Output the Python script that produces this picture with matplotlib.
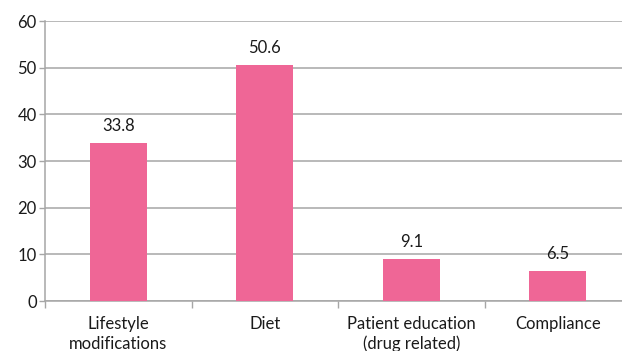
import matplotlib.pyplot as plt

categories = ["Lifestyle\nmodifications", "Diet", "Patient education\n(drug related)", "Compliance"]
values = [33.8, 50.6, 9.1, 6.5]
y_ticks = [0, 10, 20, 30, 40, 50, 60]

plt.rcParams['font.family'] = ['Lato', 'DejaVu Sans']

W, H = 622, 351
fig = plt.figure(figsize=(W / 100, H / 100), dpi=100)
# plot area runs a little past the right edge, gridlines are cut there
left, right, top, bottom = 45, 631, 21, 301
ax = fig.add_axes([left / W, (H - bottom) / H, (right - left) / W, (bottom - top) / H])

grid_col = "#a6a6a6"
txt_col = "#1a1a1a"
fs = 12
x = list(range(len(categories)))
ax.bar(x, values, width=0.39, color="#ef6696", zorder=3)

for xi, v in zip(x, values):
    ax.annotate(f"{v}", (xi, v), xytext=(0, 17), textcoords="offset pixels",
                ha="center", va="center", fontsize=fs, color=txt_col, zorder=4)

ax.set_xlim(-0.5, len(categories) - 0.5)
ax.set_ylim(0, 60)
ax.set_yticks(y_ticks)
ax.yaxis.grid(True, color=grid_col, linewidth=1.1, zorder=0)
ax.set_axisbelow(True)

ax.set_xticks(x)
ax.set_xticklabels(categories, fontsize=fs, color=txt_col, linespacing=1.25)
ax.set_xticks([i + 0.5 for i in range(-1, len(categories))], minor=True)
ax.tick_params(axis="x", which="major", length=0, pad=11)
ax.tick_params(axis="x", which="minor", length=5, color=grid_col, width=1)
ax.tick_params(axis="y", length=4, color=grid_col, width=1, labelsize=fs,
               labelcolor=txt_col, pad=2)

for s in ["top", "right"]:
    ax.spines[s].set_visible(False)
for s in ["left", "bottom"]:
    ax.spines[s].set_color(grid_col)
    ax.spines[s].set_linewidth(1.1)

fig.savefig("out.png", dpi=100)
